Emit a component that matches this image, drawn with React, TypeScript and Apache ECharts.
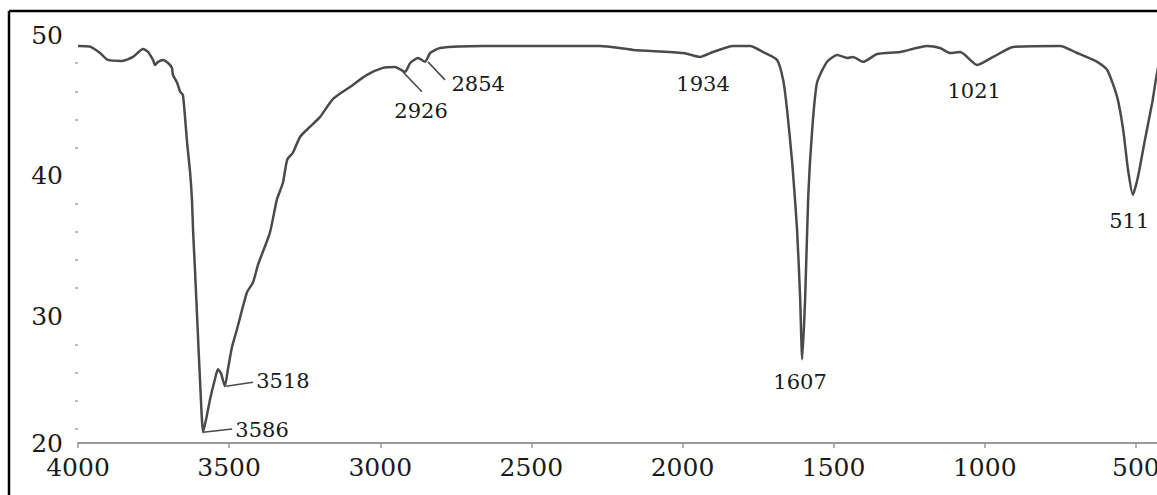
import React, { useEffect, useRef } from "react";
import * as echarts from "echarts";

// Spectrum: wavenumber (cm-1) and transmittance (%)
const wavenumbers = [
  4000, 3960, 3927, 3901, 3854, 3818, 3785, 3768, 3752, 3745, 3735, 3719, 3702, 3689, 3686,
  3672, 3662, 3653, 3646, 3639, 3629, 3623, 3619, 3613, 3606, 3596, 3586, 3576, 3563, 3547,
  3537, 3527, 3514, 3504, 3490, 3474, 3441, 3421, 3404, 3365, 3342, 3322, 3308, 3289, 3265,
  3232, 3199, 3156, 3100, 3044, 2991, 2951, 2918, 2901, 2875, 2852, 2835, 2802, 2660, 2438,
  2273, 2163, 1998, 1942, 1899, 1833, 1776, 1733, 1687, 1667, 1654, 1637, 1621, 1611, 1604,
  1594, 1584, 1571, 1555, 1522, 1488, 1455, 1436, 1402, 1356, 1280, 1191, 1148, 1115, 1081,
  1025, 972, 906, 751, 694, 628, 595, 562, 542, 526, 510, 493, 470, 446, 430,
  415, 400,
];
const transmittance = [
  49.22, 49.17, 48.72, 48.23, 48.16, 48.44, 49.01, 48.79, 48.23, 47.87, 48.09, 48.23, 48.01, 47.66, 47.16,
  46.6, 45.96, 45.74, 44.18, 42.34, 40.21, 38.3, 35.96, 33.33, 30.0, 25.32, 21.77, 22.7, 24.11, 25.53,
  26.24, 25.96, 25.04, 26.24, 27.87, 29.08, 31.7, 32.41, 33.69, 35.96, 38.3, 39.5, 41.13, 41.63, 42.77,
  43.48, 44.18, 45.46, 46.31, 47.16, 47.66, 47.73, 47.38, 48.01, 48.37, 48.09, 48.72, 49.08, 49.22, 49.22,
  49.22, 48.94, 48.72, 48.44, 48.79, 49.22, 49.22, 48.79, 48.23, 46.81, 44.68, 40.92, 36.17, 31.42, 26.95,
  31.42, 38.51, 43.26, 46.6, 48.09, 48.58, 48.37, 48.44, 48.09, 48.65, 48.79, 49.22, 49.08, 48.72, 48.79,
  47.87, 48.44, 49.15, 49.22, 48.72, 48.09, 47.52, 45.6, 43.26, 40.43, 38.65, 39.93, 42.55, 45.18, 47.3,
  48.5, 48.8,
];

// Peak annotations: text and where the text sits (data coordinates)
const peakNames = ["3586", "3518", "2926", "2854", "1934", "1607", "1021", "511"];
const peakTextX = [3391, 3322, 2865, 2676, 1932, 1611, 1035, 522];
const peakTextY = [21.91, 25.39, 44.61, 46.52, 46.52, 25.32, 46.03, 36.81];

// Leader lines: from the band to the text
const leaderFromX = [3586, 3510, 2925, 2842];
const leaderFromY = [21.77, 25.04, 47.38, 48.09];
const leaderToX = [3490, 3421, 2862, 2786];
const leaderToY = [21.99, 25.32, 45.96, 46.81];

// Axis ticks
const xMin = 0;
const xMax = 4000;
const xInterval = 500;
const yMin = 21;
const yMax = 50;
const yTickValues = [21, 30, 40, 50];
const yTickLabels = ["20", "30", "40", "50"];
const yMinorTickValues = [22, 24, 26, 28, 32, 34, 36, 38, 42, 44, 46, 48];

const FONT = "DejaVu Serif";

export default function App() {
  const ref = useRef<HTMLDivElement>(null);

  useEffect(() => {
    if (!ref.current) return;
    const chart = echarts.init(ref.current, undefined, { renderer: "svg" });
    const seriesData = wavenumbers.map((w, i) => [w, transmittance[i]]);

    chart.setOption({
      animation: false,
      backgroundColor: "#ffffff",
      grid: {
        left: 78,
        top: 35,
        right: -130,
        bottom: 52,
        containLabel: false,
        outerBoundsMode: "none",
      },
      xAxis: {
        type: "value",
        inverse: true,
        min: xMin,
        max: xMax,
        interval: xInterval,
        splitLine: { show: false },
        axisLine: { show: true, lineStyle: { color: "#9a9a9a", width: 2 } },
        axisTick: { show: true, length: 5, lineStyle: { color: "#9a9a9a", width: 1.5 } },
        axisLabel: {
          fontFamily: FONT,
          fontSize: 25,
          color: "#1a1a1a",
          margin: 12,
          formatter: (v: number) => String(v),
        },
      },
      yAxis: [
        {
          type: "value",
          min: yMin,
          max: yMax,
          position: "left",
          splitLine: { show: false },
          axisLine: { show: true, lineStyle: { color: "#9a9a9a", width: 2 } },
          axisTick: {
            show: true,
            length: 6,
            customValues: yTickValues,
            lineStyle: { color: "#9a9a9a", width: 1.5 },
          },
          axisLabel: {
            fontFamily: FONT,
            fontSize: 25,
            color: "#1a1a1a",
            margin: 15,
            customValues: yTickValues,
            formatter: (v: number) => {
              const idx = yTickValues.indexOf(Math.round(v));
              return idx >= 0 ? yTickLabels[idx] : "";
            },
          },
        },
        {
          type: "value",
          min: yMin,
          max: yMax,
          position: "left",
          offset: 0,
          splitLine: { show: false },
          axisLine: { show: false },
          axisLabel: { show: false },
          axisTick: {
            show: true,
            length: 3,
            customValues: yMinorTickValues,
            lineStyle: { color: "#a5a5a5", width: 1.5 },
          },
        },
      ],
      graphic: [
        {
          type: "line",
          shape: { x1: 9, y1: 11, x2: 9, y2: 495 },
          style: { stroke: "#000000", lineWidth: 2.5 },
          z: 100,
        },
        {
          type: "line",
          shape: { x1: 9, y1: 11, x2: 1157, y2: 11 },
          style: { stroke: "#000000", lineWidth: 2.5 },
          z: 100,
        },
      ],
      series: [
        {
          type: "line",
          data: seriesData,
          showSymbol: false,
          symbol: "none",
          smooth: 0.2,
          clip: true,
          lineStyle: { color: "#4a4a4a", width: 2.5 },
          markPoint: {
            silent: true,
            symbol: "circle",
            symbolSize: 1,
            itemStyle: { color: "rgba(0,0,0,0)" },
            label: {
              show: true,
              position: "inside",
              fontFamily: FONT,
              fontSize: 21,
              color: "#1a1a1a",
              formatter: "{b}",
            },
            data: peakNames.map((n, i) => ({
              name: n,
              coord: [peakTextX[i], peakTextY[i]],
            })),
          },
          markLine: {
            silent: true,
            symbol: ["none", "none"],
            label: { show: false },
            lineStyle: { color: "#4a4a4a", width: 1.5, type: "solid" },
            data: leaderFromX.map((x, i) => [
              { coord: [x, leaderFromY[i]] },
              { coord: [leaderToX[i], leaderToY[i]] },
            ]),
          },
        },
      ],
    });

    return () => {
      chart.dispose();
    };
  }, []);

  return (
    <div
      ref={ref}
      style={{ position: "fixed", left: 0, top: 0, width: 1157, height: 495, background: "#fff" }}
    />
  );
}
